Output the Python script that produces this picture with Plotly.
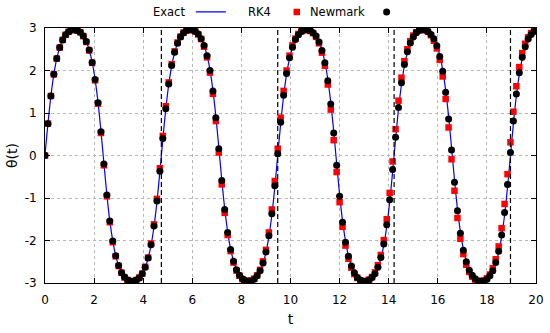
import plotly.graph_objects as go

# ---------------- data ----------------
DT = 0.12          # sampling step of the markers
N_SAMPLES = 167
t = [round(DT * i, 2) for i in range(N_SAMPLES)]

exact = [
    0.00, 0.75, 1.40, 1.91, 2.28, 2.54, 2.72, 2.84, 2.91, 2.95,
    2.96, 2.94, 2.90, 2.81, 2.68, 2.48, 2.20, 1.79, 1.25, 0.57,
    -0.19, -0.92, -1.54, -2.01, -2.36, -2.59, -2.76, -2.86, -2.93, -2.95,
    -2.96, -2.93, -2.88, -2.78, -2.64, -2.42, -2.11, -1.67, -1.09, -0.38,
    0.38, 1.09, 1.67, 2.11, 2.42, 2.64, 2.78, 2.88, 2.93, 2.96,
    2.95, 2.93, 2.86, 2.76, 2.59, 2.36, 2.01, 1.54, 0.92, 0.19,
    -0.57, -1.25, -1.79, -2.20, -2.48, -2.68, -2.81, -2.90, -2.94, -2.96,
    -2.95, -2.91, -2.84, -2.72, -2.54, -2.28, -1.91, -1.40, -0.75,
    0.00, 0.75, 1.40, 1.91, 2.28, 2.54, 2.72, 2.84, 2.91, 2.95,
    2.96, 2.94, 2.90, 2.81, 2.68, 2.48, 2.20, 1.79, 1.25, 0.57,
    -0.19, -0.92, -1.54, -2.01, -2.36, -2.59, -2.76, -2.86, -2.93, -2.95,
    -2.96, -2.93, -2.88, -2.78, -2.64, -2.42, -2.11, -1.67, -1.09, -0.38,
    0.38, 1.09, 1.67, 2.11, 2.42, 2.64, 2.78, 2.88, 2.93, 2.96,
    2.95, 2.93, 2.86, 2.76, 2.59, 2.36, 2.01, 1.54, 0.92, 0.19,
    -0.57, -1.25, -1.79, -2.20, -2.48, -2.68, -2.81, -2.90, -2.94, -2.96,
    -2.95, -2.91, -2.84, -2.72, -2.54, -2.28, -1.91, -1.40, -0.75,
    0.00, 0.75, 1.40, 1.91, 2.28, 2.54, 2.72, 2.84, 2.91,
]

rk4 = [
    0.00, 0.75, 1.40, 1.91, 2.28, 2.54, 2.72, 2.84, 2.91, 2.95,
    2.96, 2.94, 2.90, 2.81, 2.67, 2.47, 2.18, 1.77, 1.22, 0.53,
    -0.23, -0.96, -1.57, -2.04, -2.37, -2.60, -2.76, -2.87, -2.93, -2.96,
    -2.96, -2.93, -2.87, -2.78, -2.62, -2.40, -2.07, -1.62, -1.02, -0.30,
    0.46, 1.16, 1.72, 2.15, 2.45, 2.66, 2.80, 2.89, 2.94, 2.96,
    2.95, 2.92, 2.85, 2.74, 2.56, 2.31, 1.95, 1.45, 0.81, 0.07,
    -0.68, -1.35, -1.87, -2.25, -2.52, -2.71, -2.83, -2.91, -2.95, -2.96,
    -2.94, -2.90, -2.82, -2.69, -2.49, -2.22, -1.81, -1.27, -0.60, 0.16,
    0.89, 1.52, 2.00, 2.35, 2.59, 2.75, 2.86, 2.92, 2.95, 2.96,
    2.93, 2.88, 2.79, 2.64, 2.42, 2.11, 1.67, 1.08, 0.36, -0.39,
    -1.10, -1.68, -2.12, -2.43, -2.64, -2.79, -2.88, -2.94, -2.96, -2.95,
    -2.92, -2.86, -2.75, -2.58, -2.34, -1.99, -1.50, -0.88, -0.14, 0.62,
    1.29, 1.83, 2.22, 2.50, 2.69, 2.82, 2.90, 2.95, 2.96, 2.95,
    2.91, 2.83, 2.70, 2.52, 2.25, 1.86, 1.33, 0.66, -0.09, -0.83,
    -1.47, -1.96, -2.32, -2.57, -2.74, -2.85, -2.92, -2.95, -2.96, -2.94,
    -2.89, -2.80, -2.65, -2.44, -2.14, -1.71, -1.14, -0.44, 0.31, 1.03,
    1.63, 2.08, 2.41, 2.63, 2.78, 2.88, 2.93,
]

newmark = [
    0.00, 0.75, 1.40, 1.91, 2.28, 2.54, 2.72, 2.84, 2.91, 2.95,
    2.96, 2.94, 2.90, 2.81, 2.68, 2.48, 2.19, 1.79, 1.24, 0.56,
    -0.20, -0.93, -1.54, -2.01, -2.36, -2.59, -2.76, -2.86, -2.93, -2.95,
    -2.96, -2.93, -2.88, -2.78, -2.63, -2.41, -2.10, -1.66, -1.07, -0.37,
    0.40, 1.10, 1.68, 2.12, 2.43, 2.64, 2.79, 2.88, 2.94, 2.96,
    2.95, 2.92, 2.86, 2.75, 2.59, 2.35, 2.00, 1.52, 0.89, 0.16,
    -0.59, -1.27, -1.81, -2.21, -2.49, -2.69, -2.82, -2.90, -2.94, -2.96,
    -2.95, -2.91, -2.83, -2.71, -2.53, -2.27, -1.89, -1.37, -0.71, 0.04,
    0.78, 1.42, 1.93, 2.30, 2.55, 2.73, 2.84, 2.92, 2.95, 2.96,
    2.94, 2.89, 2.81, 2.67, 2.47, 2.18, 1.76, 1.21, 0.53, -0.23,
    -0.96, -1.57, -2.04, -2.37, -2.60, -2.76, -2.87, -2.93, -2.96, -2.96,
    -2.93, -2.87, -2.78, -2.63, -2.40, -2.08, -1.63, -1.04, -0.33, 0.43,
    1.13, 1.71, 2.14, 2.44, 2.65, 2.79, 2.89, 2.94, 2.96, 2.95,
    2.92, 2.85, 2.75, 2.58, 2.33, 1.98, 1.49, 0.86, 0.13, -0.63,
    -1.30, -1.83, -2.23, -2.50, -2.70, -2.82, -2.90, -2.95, -2.96, -2.95,
    -2.91, -2.83, -2.71, -2.52, -2.25, -1.87, -1.34, -0.68, 0.07, 0.81,
    1.45, 1.95, 2.31, 2.56, 2.74, 2.85, 2.92,
]

period_marks = [4.74, 9.48, 14.22, 18.96]   # dashed vertical lines

x_ticks = [0, 2, 4, 6, 8, 10, 12, 14, 16, 18, 20]
y_ticks = [-3, -2, -1, 0, 1, 2, 3]
y_ticktext = ["-3", "-2", "-1", "0", "1", "2", "3"]

series_names = ["Exact", "RK4", "Newmark"]

# ---------------- figure ----------------
FONT = "DejaVu Sans"
fig = go.Figure()

fig.add_trace(go.Scatter(
    x=t, y=exact, mode="lines", name=" ",
    line=dict(color="#0000ff", width=1.2, shape="spline", smoothing=1.0),
    legend="legend", hoverinfo="skip",
))
fig.add_trace(go.Scatter(
    x=t, y=rk4, mode="markers", name=" ",
    marker=dict(symbol="square", size=6.5, color="#ff0000", line=dict(width=0)),
    legend="legend2",
))
fig.add_trace(go.Scatter(
    x=t, y=newmark, mode="markers", name=" ",
    marker=dict(symbol="circle", size=7, color="#000000", line=dict(width=0)),
    legend="legend3",
))

for pm in period_marks:
    fig.add_shape(type="line", xref="x", yref="paper", x0=pm, x1=pm, y0=0, y1=1,
                  line=dict(color="black", width=1.2, dash="5px,3px"), layer="above")

axis_common = dict(
    showline=True, linecolor="black", linewidth=1, mirror="allticks",
    ticks="inside", ticklen=5, tickcolor="black", tickwidth=1,
    showgrid=True, gridcolor="#b8b8b8", griddash="dot", gridwidth=1,
    zeroline=False, tickfont=dict(family=FONT, size=12, color="black"),
)

fig.update_xaxes(range=[0, 20], tickvals=x_ticks, ticklabelstandoff=6,
                 title=dict(text="t", font=dict(family=FONT, size=14, color="black"), standoff=7),
                 **axis_common)
fig.update_yaxes(range=[-3, 3], tickvals=y_ticks, ticktext=y_ticktext, ticklabelstandoff=5,
                 title=dict(text="θ(t)", font=dict(family=FONT, size=14, color="black"), standoff=3),
                 **axis_common)

leg_common = dict(orientation="h", yanchor="middle", xanchor="left", y=1.063,
                  bgcolor="rgba(0,0,0,0)", borderwidth=0, itemwidth=30,
                  font=dict(family=FONT, size=11, color="black"))
fig.update_layout(
    legend=dict(x=0.297, **leg_common),
    legend2=dict(x=0.472, **leg_common),
    legend3=dict(x=0.655, **leg_common),
)

label_x = [0.2892, 0.4644, 0.6558]
for name, lx in zip(series_names, label_x):
    fig.add_annotation(text=name, xref="paper", yref="paper", x=lx, y=1.063,
                       xanchor="right", yanchor="middle", showarrow=False,
                       font=dict(family=FONT, size=11.5, color="black"))

fig.update_layout(
    width=550, height=333,
    margin=dict(l=45, r=14, t=28, b=50, autoexpand=False),
    paper_bgcolor="white", plot_bgcolor="white",
    showlegend=True,
    font=dict(family=FONT, size=12, color="black"),
)

# remove the default 8px page margin so the figure fills the window exactly
fig.write_html("out.html", config={"displayModeBar": False},
               post_script="document.body.style.margin='0';")
